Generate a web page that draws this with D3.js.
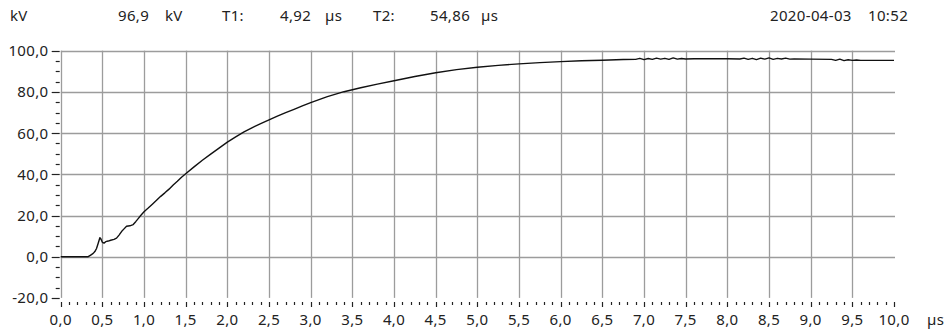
<!DOCTYPE html>
<html>
<head>
<meta charset="utf-8">
<script src="https://cdn.jsdelivr.net/npm/d3@7"></script>
<style>
  html, body { margin: 0; padding: 0; background: #fff; }
  svg { display: block; }
  text { font-family: "Noto Sans", "Open Sans", sans-serif; fill: #222; letter-spacing: 0.35px; }
</style>
</head>
<body>
<svg id="chart" width="945" height="333"></svg>
<script>
// Impulse voltage record: time in µs, voltage in kV
const timeUs = [
  0.00, 0.33, 0.36, 0.39, 0.41, 0.43, 0.45, 0.47, 0.48, 0.50, 0.52, 0.54, 0.57, 0.60, 0.64,
  0.67, 0.70, 0.73, 0.76, 0.79, 0.83, 0.87, 0.90, 0.93, 0.96, 1.00, 1.05, 1.10, 1.15, 1.20,
  1.25, 1.30, 1.35, 1.40, 1.45, 1.50, 1.60, 1.70, 1.80, 1.90, 2.00, 2.10, 2.20, 2.30, 2.40,
  2.50, 2.60, 2.70, 2.80, 2.90, 3.00, 3.20, 3.40, 3.60, 3.80, 4.00, 4.25, 4.50, 4.75, 5.00,
  5.25, 5.50, 5.75, 6.00, 6.25, 6.50, 6.75, 6.90, 6.95, 7.00, 7.05, 7.10, 7.15, 7.20, 7.25,
  7.30, 7.35, 7.40, 7.45, 7.50, 7.60, 7.80, 8.00, 8.15, 8.20, 8.25, 8.30, 8.35, 8.40, 8.45,
  8.50, 8.55, 8.60, 8.65, 8.70, 8.75, 8.80, 9.00, 9.25, 9.30, 9.35, 9.40, 9.45, 9.50, 9.55,
  9.60, 9.80, 10.00
];
const voltageKv = [
  0.0, 0.0, 0.8, 1.6, 2.5, 4.0, 6.5, 9.2, 8.8, 7.0, 6.6, 7.3, 7.6, 8.0, 8.4,
  9.0, 10.5, 12.2, 13.5, 14.8, 15.0, 15.6, 17.0, 18.5, 20.0, 21.8, 23.6, 25.5, 27.4, 29.3,
  31.0, 32.8, 34.8, 36.6, 38.6, 40.3, 43.6, 46.8, 49.8, 52.7, 55.6, 58.2, 60.6, 62.7, 64.6,
  66.4, 68.2, 69.9, 71.5, 73.2, 74.8, 77.7, 80.1, 82.0, 83.8, 85.4, 87.5, 89.3, 90.8, 92.0,
  92.9, 93.6, 94.2, 94.7, 95.1, 95.4, 95.7, 95.8, 96.3, 95.7, 96.2, 95.8, 96.4, 95.9, 96.3,
  95.8, 96.5, 95.9, 96.2, 96.0, 96.1, 96.1, 96.1, 96.0, 96.4, 95.8, 96.3, 95.7, 96.4, 95.9,
  96.5, 95.8, 96.3, 96.0, 96.4, 95.9, 96.0, 95.9, 95.8, 95.3, 95.9, 95.2, 95.6, 95.3, 95.5,
  95.3, 95.3, 95.3
];

// Header readouts
const headerTexts = [
  { text: "kV", x: 10 },
  { text: "96,9", x: 118 },
  { text: "kV", x: 165 },
  { text: "T1:", x: 222 },
  { text: "4,92", x: 280 },
  { text: "µs", x: 325 },
  { text: "T2:", x: 373 },
  { text: "54,86", x: 430 },
  { text: "µs", x: 481 },
  { text: "2020-04-03", x: 770 },
  { text: "10:52", x: 868 }
];

const yTicks = [-20, 0, 20, 40, 60, 80, 100];
const xUnit = "µs";

const svg = d3.select("#chart");
const fmt = v => v.toFixed(1).replace(".", ",");
const fontSize = 15;

const x = d3.scaleLinear().domain([0, 10]).range([60.7, 894]);
const y = d3.scaleLinear().domain([-20, 100]).range([297.9, 50.7]);

const gridColor = "#9c9c9c";

// Grid: horizontal lines at each labelled level above the bottom
svg.append("g")
  .selectAll("line")
  .data(yTicks.filter(v => v > -20))
  .join("line")
  .attr("x1", x(0)).attr("x2", x(10) + 1)
  .attr("y1", d => Math.round(y(d)) + 0.5).attr("y2", d => Math.round(y(d)) + 0.5)
  .attr("stroke", gridColor).attr("stroke-width", 1.3);

// Grid: vertical lines every 0.5 µs (left edge doubles as the value axis)
const xMajor = d3.range(0, 10.001, 0.5).map(v => +v.toFixed(1));
svg.append("g")
  .selectAll("line")
  .data(xMajor.filter(v => v < 10))
  .join("line")
  .attr("x1", d => Math.round(x(d)) + 0.5).attr("x2", d => Math.round(x(d)) + 0.5)
  .attr("y1", y(100)).attr("y2", y(-20))
  .attr("stroke", gridColor).attr("stroke-width", 1.3);

// Y axis ticks and labels
const yAxis = svg.append("g");
const yMinor = d3.range(-20, 100.001, 5);
yAxis.selectAll("line")
  .data(yMinor)
  .join("line")
  .attr("x1", d => d % 20 === 0 ? x(0) - 9 : x(0) - 5)
  .attr("x2", x(0) - 1)
  .attr("y1", d => Math.round(y(d)) + 0.5).attr("y2", d => Math.round(y(d)) + 0.5)
  .attr("stroke", "#222").attr("stroke-width", 1.2);
yAxis.selectAll("text")
  .data(yTicks)
  .join("text")
  .attr("x", 48.5)
  .attr("y", d => y(d))
  .attr("dy", "0.36em")
  .attr("text-anchor", "end")
  .attr("font-size", fontSize)
  .text(d => fmt(d));

// X axis ticks and labels
const xAxis = svg.append("g");
const xMinor = d3.range(0, 100.5, 1).map(v => v / 10);
xAxis.selectAll("line")
  .data(xMinor)
  .join("line")
  .attr("x1", d => Math.round(x(d)) + 0.5).attr("x2", d => Math.round(x(d)) + 0.5)
  .attr("y1", 302)
  .attr("y2", d => (Math.round(d * 10) % 5 === 0) ? 307 : 305)
  .attr("stroke", "#222").attr("stroke-width", 1.2);
xAxis.selectAll("text")
  .data(xMajor)
  .join("text")
  .attr("x", d => x(d))
  .attr("y", 325)
  .attr("text-anchor", "middle")
  .attr("font-size", fontSize)
  .text(d => fmt(d));
xAxis.append("text")
  .attr("x", 927).attr("y", 325)
  .attr("font-size", fontSize)
  .text(xUnit);

// Voltage trace
const points = timeUs.map((t, i) => [t, voltageKv[i]]);
svg.append("path")
  .datum(points)
  .attr("fill", "none")
  .attr("stroke", "#111")
  .attr("stroke-width", 1.4)
  .attr("stroke-linejoin", "round")
  .attr("d", d3.line().x(d => x(d[0])).y(d => y(d[1])));

// Header
svg.append("g")
  .selectAll("text")
  .data(headerTexts)
  .join("text")
  .attr("x", d => d.x)
  .attr("y", 20.5)
  .attr("font-size", fontSize)
  .text(d => d.text);
</script>
</body>
</html>
